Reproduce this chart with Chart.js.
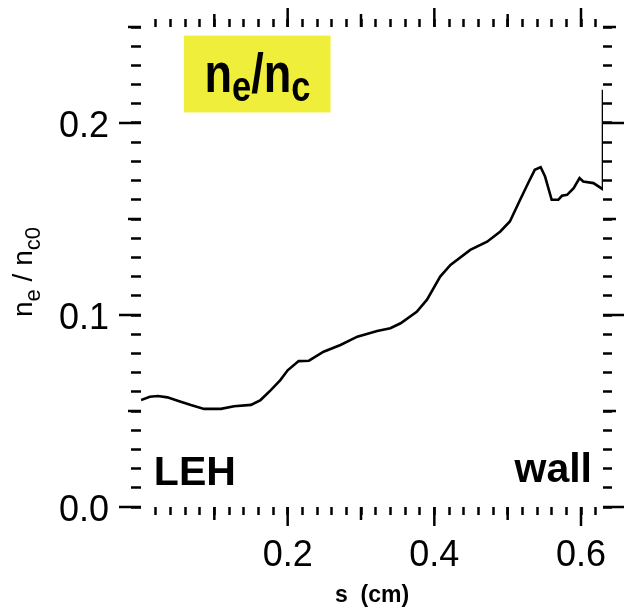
<!DOCTYPE html>
<html><head><meta charset="utf-8">
<script src="https://cdn.jsdelivr.net/npm/chart.js@4/dist/chart.umd.min.js"></script>
<style>html,body{margin:0;padding:0;background:#fff;}canvas{display:block;}</style>
</head><body>
<canvas id="c" width="624" height="613"></canvas>
<script>
// ---- data ----
const sPositions = [0, 0.012, 0.023, 0.036, 0.050, 0.068, 0.086, 0.109, 0.127, 0.150, 0.163, 0.177, 0.190, 0.200, 0.215, 0.229, 0.249, 0.272, 0.295, 0.322, 0.340, 0.354, 0.376, 0.390, 0.408, 0.422, 0.449, 0.472, 0.490, 0.503, 0.517, 0.529, 0.537, 0.545, 0.551, 0.560, 0.569, 0.574, 0.581, 0.590, 0.598, 0.603, 0.617, 0.630, 0.630];
const densityRatio = [0.0557, 0.0574, 0.0578, 0.0571, 0.0553, 0.0531, 0.0511, 0.0511, 0.0525, 0.0532, 0.0557, 0.0609, 0.0661, 0.0712, 0.0760, 0.0762, 0.0809, 0.0844, 0.0887, 0.0917, 0.0931, 0.0957, 0.1017, 0.1080, 0.1200, 0.1261, 0.1339, 0.1382, 0.1435, 0.1487, 0.1600, 0.1695, 0.1756, 0.1770, 0.1721, 0.1600, 0.1600, 0.1621, 0.1626, 0.1661, 0.1713, 0.1695, 0.1687, 0.1654, 0.2173];
const xTickLabels = ['0.2', '0.4', '0.6'];
const yTickLabels = ['0.0', '0.1', '0.2'];
const xTitle = 's  (cm)';
const yTitleParts = [['n', 0], ['e', 1], [' / ', 0], ['n', 0], ['c0', 1]];
const boxTitleParts = [['n', 0], ['e', 1], ['/', 0], ['n', 0], ['c', 1]];
const leftLabel = 'LEH';
const rightLabel = 'wall';

const FONT = "'Liberation Sans', Arial, Helvetica, sans-serif";

function isLabelled(v, list) {
  const k = Math.round(v * 100);
  const lab = v.toFixed(1);
  return k % 10 === 0 && list.includes(lab) ? lab : '';
}
function noZeroTick(ctx) {
  return ctx.tick && Math.abs(ctx.tick.value) < 1e-9 ? 'rgba(0,0,0,0)' : '#000';
}
function zeroPad(s) { s.paddingTop = 0; s.paddingBottom = 0; s.paddingLeft = 0; s.paddingRight = 0; }

const tickExtender = {
  id: 'tickExtender',
  afterDraw(chart) {
    const ctx = chart.ctx, a = chart.chartArea;
    const sx = chart.scales.x, sy = chart.scales.y;
    ctx.save();
    ctx.strokeStyle = '#000';
    ctx.lineWidth = 2.5;
    const seg = (x1, y1, x2, y2) => { ctx.beginPath(); ctx.moveTo(x1, y1); ctx.lineTo(x2, y2); ctx.stroke(); };
    sx.ticks.forEach(t => {
      const k = Math.round(t.value * 100);
      if (k === 0 || k % 10 !== 0) return;
      const len = k % 20 === 0 ? 19 : 13;
      const px = sx.getPixelForValue(t.value);
      seg(px, a.bottom, px, a.bottom + len);
      seg(px, a.top, px, a.top - len);
    });
    sy.ticks.forEach(t => {
      const k = Math.round(t.value * 100);
      if (k % 5 !== 0) return;
      const major = k % 10 === 0;
      const py = sy.getPixelForValue(t.value);
      seg(a.left - (major ? 22 : 13), py, a.left, py);
      seg(a.right, py, a.right + (major ? 21 : 13), py);
    });
    ctx.restore();
  }
};

function drawParts(ctx, parts, mainFont, subFont, subShift) {
  let x = 0;
  parts.forEach(([txt, sub]) => {
    ctx.font = sub ? subFont : mainFont;
    ctx.fillText(txt, x, sub ? subShift : 0);
    x += ctx.measureText(txt).width;
  });
}

const annotations = {
  id: 'annotations',
  afterDraw(chart) {
    const ctx = chart.ctx;
    const sx = chart.scales.x, sy = chart.scales.y;
    ctx.save();
    // yellow title box
    const bx1 = sx.getPixelForValue(0.0585), bx2 = sx.getPixelForValue(0.2585);
    const by1 = sy.getPixelForValue(0.2455), by2 = sy.getPixelForValue(0.2055);
    ctx.fillStyle = '#EFEE3B';
    ctx.fillRect(bx1, by1, bx2 - bx1, by2 - by1);
    ctx.fillStyle = '#000';
    ctx.textBaseline = 'alphabetic';
    ctx.textAlign = 'left';
    ctx.save();
    ctx.translate(sx.getPixelForValue(0.0865), sy.getPixelForValue(0.2163));
    ctx.scale(0.82, 1);
    drawParts(ctx, boxTitleParts, 'bold 55px ' + FONT, 'bold 42px ' + FONT, 9);
    ctx.restore();
    // LEH / wall labels
    ctx.font = 'bold 41px ' + FONT;
    ctx.textAlign = 'left';
    ctx.fillText(leftLabel, sx.getPixelForValue(0.0175), sy.getPixelForValue(0.0115));
    ctx.textAlign = 'right';
    ctx.fillText(rightLabel, sx.getPixelForValue(0.615), sy.getPixelForValue(0.013));
    // rotated y title with subscripts
    ctx.textAlign = 'left';
    ctx.save();
    ctx.translate(32, 317);
    ctx.rotate(-Math.PI / 2);
    drawParts(ctx, yTitleParts, '28px ' + FONT, '22px ' + FONT, 8);
    ctx.restore();
    ctx.restore();
  }
};

new Chart(document.getElementById('c'), {
  type: 'line',
  data: {
    datasets: [{
      data: sPositions.map((s, i) => ({ x: s, y: densityRatio[i] })),
      borderColor: '#000',
      borderWidth: 2.6,
      pointRadius: 0,
      tension: 0,
      fill: false
    }]
  },
  options: {
    responsive: false,
    animation: false,
    events: [],
    layout: { padding: 0 },
    plugins: { legend: { display: false }, tooltip: { enabled: false } },
    scales: {
      x: {
        type: 'linear', position: 'bottom', min: 0, max: 0.63,
        ticks: {
          stepSize: 0.02, includeBounds: false, autoSkip: false, maxRotation: 0, minRotation: 0,
          padding: 19, color: '#000', font: { family: FONT, size: 36 },
          callback: v => isLabelled(v, xTickLabels)
        },
        grid: { drawOnChartArea: false, drawTicks: true, tickLength: 8, tickWidth: 2.5, tickColor: noZeroTick },
        border: { display: false },
        title: { display: true, text: xTitle, color: '#000', font: { family: FONT, size: 23, weight: 'bold' }, padding: { top: 0, bottom: 4 } },
        afterFit: s => { s.height = 106; zeroPad(s); }
      },
      x2: {
        type: 'linear', position: 'top', min: 0, max: 0.63,
        ticks: { display: false, stepSize: 0.02, includeBounds: false, autoSkip: false },
        grid: { drawOnChartArea: false, drawTicks: true, tickLength: 8, tickWidth: 2.5, tickColor: noZeroTick },
        border: { display: false },
        afterFit: s => { s.height = 27; zeroPad(s); }
      },
      y: {
        type: 'linear', position: 'left', min: 0, max: 0.25,
        ticks: {
          stepSize: 0.01, includeBounds: false, autoSkip: false, padding: 22, labelOffset: 4,
          color: '#000', font: { family: FONT, size: 36 },
          callback: v => isLabelled(v, yTickLabels)
        },
        grid: { drawOnChartArea: false, drawTicks: true, tickLength: 10, tickWidth: 2.5, tickColor: '#000' },
        border: { display: false },
        afterFit: s => { s.width = 141; zeroPad(s); }
      },
      y2: {
        type: 'linear', position: 'right', min: 0, max: 0.25,
        ticks: { display: false, stepSize: 0.01, includeBounds: false, autoSkip: false },
        grid: { drawOnChartArea: false, drawTicks: true, tickLength: 9, tickWidth: 2.5, tickColor: '#000' },
        border: { display: false },
        afterFit: s => { s.width = 21; zeroPad(s); }
      }
    }
  },
  plugins: [tickExtender, annotations]
});
</script>
</body></html>
